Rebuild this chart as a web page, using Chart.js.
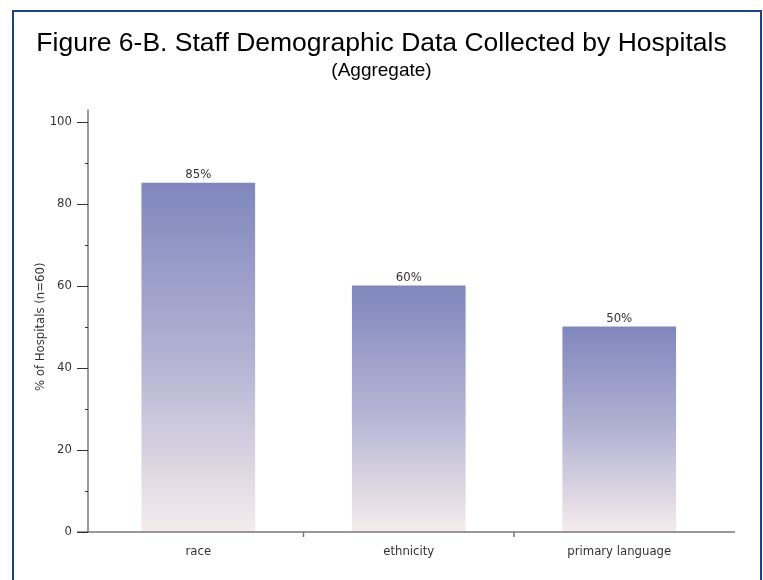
<!DOCTYPE html>
<html>
<head>
<meta charset="utf-8">
<script src="https://cdn.jsdelivr.net/npm/chart.js@4/dist/chart.umd.min.js"></script>
<style>
html,body{margin:0;padding:0;background:#fff;}
#wrap{position:relative;width:763px;height:580px;overflow:hidden;}
#frame{position:absolute;left:12px;top:10px;width:750px;height:600px;border:2px solid #1d3f8f;box-sizing:border-box;}
canvas{position:absolute;left:0;top:0;}
</style>
</head>
<body>
<div id="wrap">
<div id="frame"></div>
<canvas id="c" width="763" height="580"></canvas>
</div>
<script>
const categories = ["race", "ethnicity", "primary language"];
const values = [85, 60, 50];
const valueLabels = ["85%", "60%", "50%"];
const yTickLabels = [0, 20, 40, 60, 80, 100];

const NARROW = "'Liberation Sans Narrow', 'DejaVu Sans Condensed', 'Arial Narrow', sans-serif";

function barGradient(ctx) {
  const chart = ctx.chart;
  if (!chart.chartArea || ctx.type !== 'data') return '#a0a4cc';
  const ys = chart.scales.y;
  const top = ys.getPixelForValue(ctx.parsed.y);
  const base = ys.getPixelForValue(0);
  const g = chart.ctx.createLinearGradient(0, top, 0, base);
  g.addColorStop(0, '#7f87bd');
  g.addColorStop(0.5, '#b3b2d3');
  g.addColorStop(1, '#f5ecec');
  return g;
}

const axesPlugin = {
  id: 'axesPlugin',
  afterDraw(chart) {
    const ctx = chart.ctx;
    const xs = chart.scales.x, ys = chart.scales.y;
    const x0 = xs.left, y0 = ys.getPixelForValue(0);
    ctx.save();
    ctx.strokeStyle = '#777';
    ctx.lineWidth = 1.5;
    ctx.beginPath();
    ctx.moveTo(x0, ys.getPixelForValue(100) - 12);
    ctx.lineTo(x0, y0);
    ctx.stroke();
    ctx.beginPath();
    ctx.moveTo(x0 - 11, y0);
    ctx.lineTo(xs.right, y0);
    ctx.stroke();
    ctx.strokeStyle = '#333';
    ctx.lineWidth = 1;
    for (let v = 0; v <= 100; v += 10) {
      const y = Math.round(ys.getPixelForValue(v)) + 0.5;
      const len = (v % 20 === 0) ? 11 : 3;
      ctx.beginPath();
      ctx.moveTo(x0 - len, y);
      ctx.lineTo(x0, y);
      ctx.stroke();
    }
    ctx.strokeStyle = '#777';
    ctx.lineWidth = 1.5;
    for (let i = 1; i < categories.length; i++) {
      const x = xs.getPixelForValue(i - 0.5);
      ctx.beginPath();
      ctx.moveTo(x, y0);
      ctx.lineTo(x, y0 + 5);
      ctx.stroke();
    }
    ctx.fillStyle = '#333';
    ctx.font = '13px ' + NARROW;
    ctx.textAlign = 'center';
    ctx.textBaseline = 'alphabetic';
    const meta = chart.getDatasetMeta(0);
    meta.data.forEach((bar, i) => {
      ctx.fillText(valueLabels[i], bar.x, bar.y - 5);
    });
    ctx.restore();
  }
};

new Chart(document.getElementById('c'), {
  type: 'bar',
  data: {
    datasets: [{
      data: values.map((v, i) => ({ x: i, y: v })),
      backgroundColor: barGradient,
      borderWidth: 0,
      barThickness: 113
    }]
  },
  plugins: [axesPlugin],
  options: {
    responsive: false,
    animation: false,
    devicePixelRatio: 1,
    layout: { padding: { left: 28, right: 28, top: 0, bottom: 0 } },
    plugins: {
      legend: { display: false },
      tooltip: { enabled: false },
      title: {
        display: true,
        text: 'Figure 6-B. Staff Demographic Data Collected by Hospitals',
        color: '#000',
        font: { family: "'Liberation Sans', Arial, sans-serif", size: 26.5, weight: 'normal' },
        padding: { top: 28, bottom: 0 }
      },
      subtitle: {
        display: true,
        text: '(Aggregate)',
        color: '#000',
        font: { family: "'Liberation Sans', Arial, sans-serif", size: 19, weight: 'normal' },
        padding: { top: 0, bottom: 39 }
      }
    },
    scales: {
      x: {
        type: 'linear',
        min: -0.524,
        max: 2.55,
        offset: false,
        grid: { display: false, drawTicks: false },
        border: { display: false },
        ticks: {
          stepSize: 1,
          includeBounds: false,
          autoSkip: false,
          maxRotation: 0,
          color: '#333',
          padding: 12,
          font: { family: NARROW, size: 13 },
          callback: (v) => (Number.isInteger(v) && categories[v] !== undefined) ? categories[v] : ''
        },
        afterFit(s) { s.height = 48; }
      },
      y: {
        min: 0, max: 100,
        grid: { display: false, drawTicks: false },
        border: { display: false },
        ticks: {
          stepSize: 10,
          padding: 16,
          color: '#333',
          font: { family: NARROW, size: 13 },
          callback: (v) => yTickLabels.includes(v) ? String(v) : ''
        },
        title: {
          display: true,
          text: '% of Hospitals (n=60)',
          color: '#333',
          font: { family: NARROW, size: 13 },
          padding: { top: 5, bottom: 0 }
        },
        afterFit(s) { s.width = 60; }
      }
    }
  }
});
</script>
</body>
</html>
